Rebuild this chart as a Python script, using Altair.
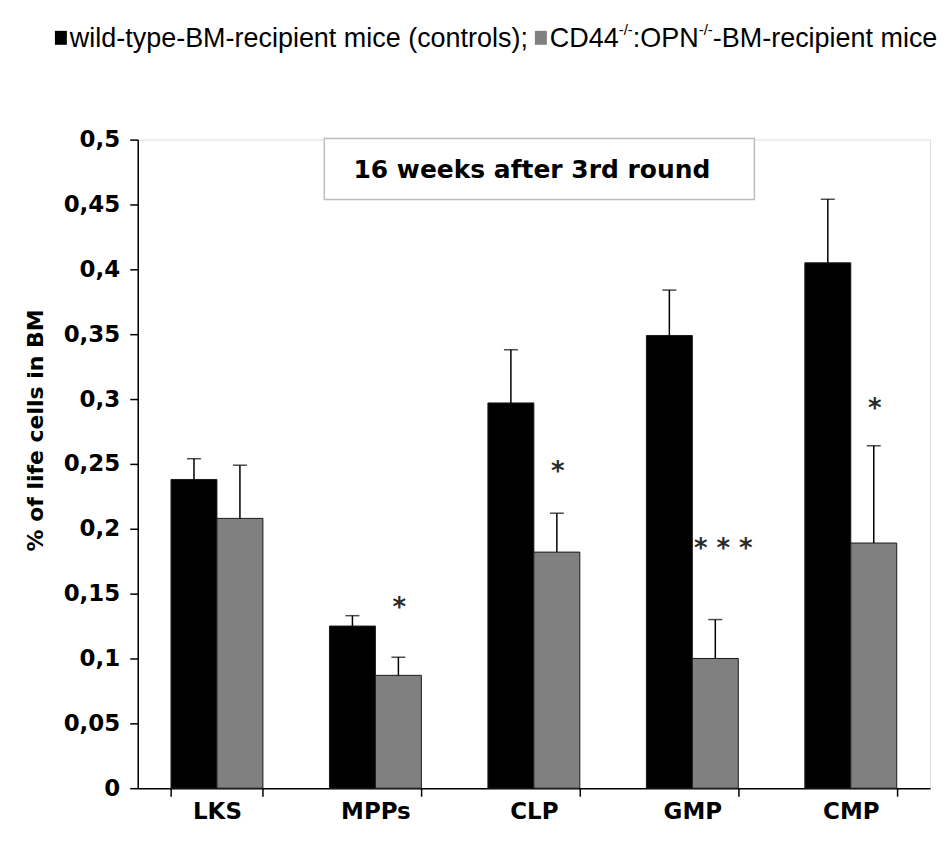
import altair as alt
import pandas as pd

# ---------------- data ----------------
categories = ["LKS", "MPPs", "CLP", "GMP", "CMP"]
wt_mean = [0.238, 0.125, 0.297, 0.349, 0.405]
wt_err = [0.016, 0.008, 0.041, 0.035, 0.049]
ko_mean = [0.208, 0.087, 0.182, 0.100, 0.189]
ko_err = [0.041, 0.014, 0.030, 0.030, 0.075]
sig_text = ["*", "*", "*  *  *", "*"]
sig_cat = ["MPPs", "CLP", "GMP", "CMP"]
sig_y = [0.144, 0.249, 0.190, 0.298]

groups = ["wt", "ko"]
group_colors = ["#000000", "#808080"]

rows = []
for i, c in enumerate(categories):
    rows.append({"cat": c, "grp": "wt", "val": wt_mean[i], "top": wt_mean[i] + wt_err[i]})
    rows.append({"cat": c, "grp": "ko", "val": ko_mean[i], "top": ko_mean[i] + ko_err[i]})
df = pd.DataFrame(rows)
sig_df = pd.DataFrame({"cat": sig_cat, "grp": ["ko"] * len(sig_cat), "y": sig_y, "t": sig_text})

FONT = "Liberation Sans"
BFONT = "DejaVu Sans"
W, H = 794, 650

x_enc = alt.X("cat:N", sort=categories,
              scale=alt.Scale(domain=categories, paddingInner=0.42, paddingOuter=0.21),
              axis=alt.Axis(title=None, tickBand="extent", labelAngle=0, labelFontSize=23,
                            labelFontWeight="bold", labelFont=BFONT, labelColor="#000",
                            tickSize=8, labelPadding=4, domainColor="#000", tickColor="#000",
                            domainWidth=1.5, tickWidth=1.5))
xoff = alt.XOffset("grp:N", sort=groups, scale=alt.Scale(domain=groups, paddingInner=0, paddingOuter=0))
y_scale = alt.Scale(domain=[0, 0.5], nice=False, zero=True)

base = alt.Chart(df)

bars = base.mark_bar(stroke="#1a1a1a", strokeWidth=1).encode(
    x=x_enc,
    xOffset=xoff,
    y=alt.Y("val:Q", scale=y_scale,
            axis=alt.Axis(title="% of life cells in BM", values=[i * 0.05 for i in range(11)],
                          labelExpr="replace(format(datum.value, '.2~f'), '.', ',')",
                          labelFontSize=23, labelFontWeight="bold", labelFont=BFONT, labelColor="#000",
                          tickSize=8, labelPadding=10, grid=False, domainColor="#000",
                          tickColor="#000", domainWidth=1.5, tickWidth=1.5,
                          titleFontSize=22, titleFontWeight="bold", titleFont=BFONT, titleColor="#000",
                          titleX=-102, titleY=291, titleAngle=-90, titleAlign="center",
                          titleBaseline="middle")),
    color=alt.Color("grp:N", scale=alt.Scale(domain=groups, range=group_colors), legend=None),
)

err_rules = base.mark_rule(color="#000", strokeWidth=1.5).encode(
    x=alt.X("cat:N", sort=categories), xOffset=xoff,
    y=alt.Y("val:Q", scale=y_scale), y2="top:Q",
)
caps = base.mark_tick(color="#000", size=14, thickness=1.5).encode(
    x=alt.X("cat:N", sort=categories), xOffset=xoff,
    y=alt.Y("top:Q", scale=y_scale),
)
star_single = alt.Chart(sig_df).transform_filter("datum.t == '*'").mark_text(
    font=BFONT, fontSize=26, fontWeight="bold", color="#2b2b2b",
    baseline="alphabetic", dy=15, dx=1).encode(
    x=alt.X("cat:N", sort=categories), xOffset=alt.XOffset("grp:N", sort=groups),
    y=alt.Y("y:Q", scale=y_scale), text="t:N",
)
star_multi = alt.Chart(sig_df).transform_filter("datum.t != '*'").mark_text(
    font=BFONT, fontSize=26, fontWeight="bold", color="#2b2b2b",
    baseline="alphabetic", dy=15, dx=8).encode(
    x=alt.X("cat:N", sort=categories), xOffset=alt.XOffset("grp:N", sort=groups),
    y=alt.Y("y:Q", scale=y_scale), text="t:N",
)

# ---------------- in-plot title box ----------------
one = pd.DataFrame({"t": ["16 weeks after 3rd round"]})
box = alt.Chart(one).mark_rect(fill="white", stroke="#bdbdbd", strokeWidth=1.5).encode(
    x=alt.value(187), x2=alt.value(618), y=alt.value(-1), y2=alt.value(60))
box_text = alt.Chart(one).mark_text(font=BFONT, fontSize=25, fontWeight="bold", color="#000",
                                    baseline="middle", align="center").encode(
    x=alt.value(395), y=alt.value(30), text="t:N")

# ---------------- legend line at top ----------------
OX, OY = 138, 139  # page position of plot origin
FS = 27
SUP = 15
BASE_Y = 46 - OY
SUP_Y = 34 - OY
leg_text1 = "wild-type-BM-recipient mice (controls);"
t1_left = 70
sq2_left = t1_left + 17.0 * FS + 7
cd_left = sq2_left + 15
sup1_left = cd_left + 2.556 * FS
opn_left = sup1_left + 0.944 * SUP
sup2_left = opn_left + 2.445 * FS
bm_left = sup2_left + 0.944 * SUP

def txt(s, left, y, size):
    return alt.Chart(pd.DataFrame({"t": [s]})).mark_text(
        font=FONT, fontSize=size, color="#000", align="left", baseline="alphabetic").encode(
        x=alt.value(left - OX), y=alt.value(y), text="t:N")

def sq(left, color):
    return alt.Chart(pd.DataFrame({"t": [0]})).mark_rect(fill=color).encode(
        x=alt.value(left - OX), x2=alt.value(left + 12 - OX),
        y=alt.value(30 - OY), y2=alt.value(44 - OY))

legend = [
    sq(55, "#000000"),
    txt(leg_text1, t1_left, BASE_Y, FS),
    sq(sq2_left, "#808080"),
    txt("CD44", cd_left, BASE_Y, FS),
    txt("-/-", sup1_left, SUP_Y, SUP),
    txt(":OPN", opn_left, BASE_Y, FS),
    txt("-/-", sup2_left, SUP_Y, SUP),
    txt("-BM-recipient mice", bm_left, BASE_Y, FS),
]

chart = alt.layer(bars, err_rules, caps, star_single, star_multi, box, box_text, *legend).properties(
    width=W, height=H,
    autosize=alt.AutoSizeParams(type="none"),
    padding={"left": 130, "top": 131, "right": 8, "bottom": 40},
).configure_view(stroke=None).configure(background="white")

chart.save("out.html", embed_options={"renderer": "svg", "actions": False})
